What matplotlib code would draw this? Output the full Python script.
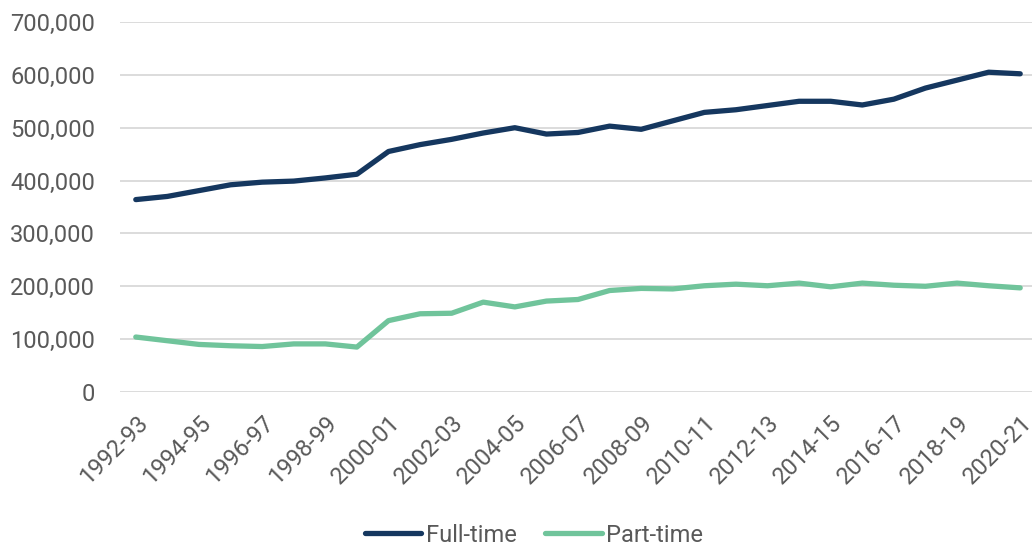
import numpy as np
import matplotlib.pyplot as plt
from matplotlib.ticker import FuncFormatter

plt.rcParams['font.family'] = ['Roboto', 'DejaVu Sans']

# academic years
years = ['1992-93', '1993-94', '1994-95', '1995-96', '1996-97', '1997-98', '1998-99',
         '1999-00', '2000-01', '2001-02', '2002-03', '2003-04', '2004-05', '2005-06',
         '2006-07', '2007-08', '2008-09', '2009-10', '2010-11', '2011-12', '2012-13',
         '2013-14', '2014-15', '2015-16', '2016-17', '2017-18', '2018-19', '2019-20',
         '2020-21']

full_time = [364000, 370000, 381000, 392000, 397000, 399000, 405000, 412000, 455000,
             468000, 478000, 490000, 500000, 488000, 491000, 503000, 497000, 513000,
             529000, 534000, 542000, 550000, 550000, 543000, 554000, 575000, 590000,
             605000, 602000]

part_time = [104000, 97000, 90000, 87500, 86000, 91000, 91000, 85000, 135000, 148000,
             149000, 170000, 161000, 172000, 175000, 192000, 196000, 195000, 201000,
             204000, 201000, 206000, 199000, 206000, 202000, 200000, 206000, 201000,
             197000]

navy = '#15375F'
green = '#70C49B'
grey = '#595959'
fs = 17

fig = plt.figure(figsize=(10.32, 5.5), dpi=100)
ax = fig.add_axes([120 / 1032, 1 - 392 / 550, 916 / 1032, 370 / 550])

x = np.arange(len(years))
ax.plot(x, full_time, color=navy, lw=3.8, solid_capstyle='round', solid_joinstyle='round', label='Full-time')
ax.plot(x, part_time, color=green, lw=3.8, solid_capstyle='round', solid_joinstyle='round', label='Part-time')

ax.set_xlim(-0.5, len(years) - 0.5)
ax.set_ylim(0, 700000)
ax.set_yticks(np.arange(0, 700001, 100000))
ax.yaxis.set_major_formatter(FuncFormatter(lambda v, p: format(int(v), ',')))
ax.grid(axis='y', color='#D9D9D9', lw=1.3)
ax.set_axisbelow(True)
for s in ax.spines.values():
    s.set_visible(False)

ax.set_xticks(x[::2])
ax.set_xticklabels(years[::2], rotation=45, ha='right', va='top', rotation_mode='anchor')
ax.tick_params(axis='both', length=0, labelsize=fs, labelcolor=grey)
ax.tick_params(axis='x', pad=14)
ax.tick_params(axis='y', pad=18)

leg = fig.legend(loc='center', bbox_to_anchor=(534 / 1032, 1 - 535 / 550), ncol=2,
                 frameon=False, fontsize=fs, handlelength=2.4, handletextpad=0.2,
                 columnspacing=1.2)
for t in leg.get_texts():
    t.set_color(grey)
for h in leg.get_lines():
    h.set_linewidth(3.8)

fig.savefig('out.png', dpi=100)
